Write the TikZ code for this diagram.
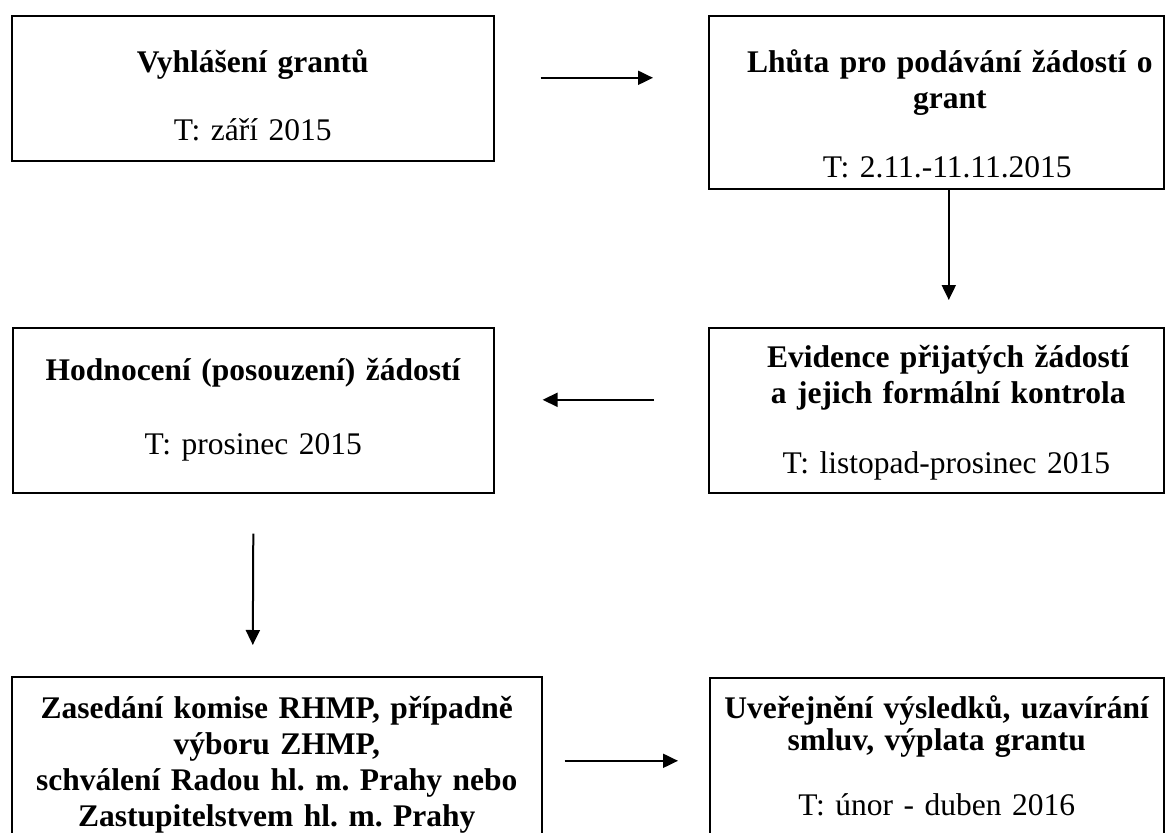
\documentclass[tikz,border=0pt]{standalone}
\usepackage{fontspec}
\setmainfont{Liberation Serif}
\usetikzlibrary{arrows.meta}
\frenchspacing

\newcommand{\txtshift}[1]{\hspace*{#1}}

\begin{document}
\begin{tikzpicture}[
            x = 1pt, y = -1pt, % page pixels, y going down
            > = {Triangle[length=15pt, width=14pt]}, % arrow head style
            line width = 2pt % line style
        ]

        \tikzstyle{stage}=[
            draw = black,
            line width = 1.6pt,
            inner sep = 0pt,
            anchor = north west,
            align = center,
            font = \fontsize{31.5}{36}\selectfont
        ]

        \useasboundingbox[fill=white] (0,0) rectangle (1176,833);

        \node[stage, text width=482pt, text height=57pt, text depth=88pt] (call) at (11,15)
            {\textbf{Vyhlášení grantů}\\[32pt] T: září 2015};
        \node[stage, text width=455pt, text height=57pt, text depth=116pt] (term) at (708,15)
            {\txtshift{27pt}\textbf{Lhůta pro podávání žádostí o}\\ \txtshift{27pt}\textbf{grant}\\[33pt] \txtshift{22pt}T: 2.11.-11.11.2015};
        \node[stage, text width=455pt, text height=40pt, text depth=125pt] (check) at (708,327)
            {\txtshift{24pt}\textbf{Evidence přijatých žádostí}\\ \txtshift{24pt}\textbf{a jejich formální kontrola}\\[34pt] \txtshift{20pt}T: listopad-prosinec 2015};
        \node[stage, text width=481pt, text height=53pt, text depth=112pt] (rate) at (12,327)
            {\textbf{Hodnocení (posouzení) žádostí}\\[38pt] T: prosinec 2015};
        \node[stage, text width=530pt, text height=42pt, text depth=142pt] (board) at (11,676)
            {\textbf{Zasedání komise RHMP, případně}\\ \textbf{výboru ZHMP,}\\ \textbf{schválení Radou hl. m. Prahy nebo}\\ \textbf{Zastupitelstvem hl. m. Prahy}};
        \node[stage, text width=454pt, text height=41pt, text depth=142pt] (pay) at (709,677)
            {\textbf{Uveřejnění výsledků, uzavírání}\\[-4pt] \textbf{smluv, výplata grantu}\\[29pt] T: únor - duben 2016};

        \path[->] ([xshift=46pt, yshift=10.5pt]call.east) edge ([xshift=-55pt, yshift=24.5pt]term.west);
        \path[->] ([xshift=12.5pt]term.south) edge ([xshift=12.5pt, yshift=27pt]check.north);
        \path[->] ([xshift=-54pt, yshift=10.5pt]check.west) edge ([xshift=48pt, yshift=10.5pt]rate.east);
        \path[->] ([yshift=-40pt]rate.south) edge ([xshift=-24pt, yshift=31pt]board.north);
        \path[->] ([xshift=22pt, yshift=8pt]board.east) edge ([xshift=-31pt, yshift=8.5pt]pay.west);

  \end{tikzpicture}
\end{document}
